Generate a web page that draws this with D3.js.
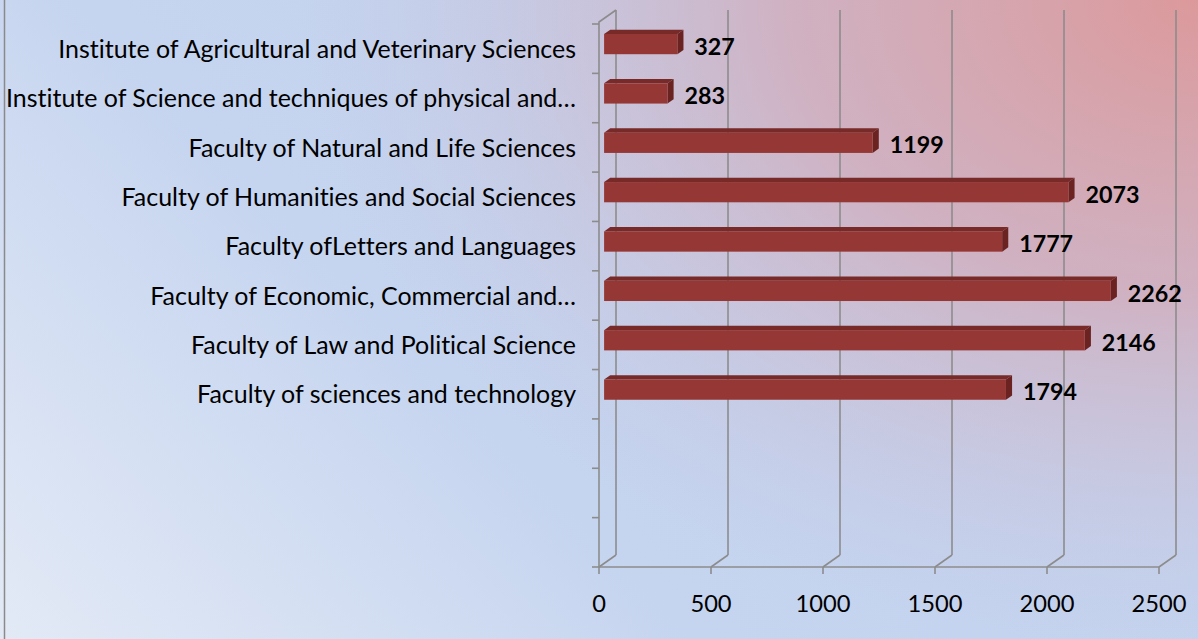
<!DOCTYPE html>
<html><head><meta charset="utf-8">
<script src="https://cdn.jsdelivr.net/npm/d3@7/dist/d3.min.js"></script>
<style>body{margin:0;background:#fff}svg{display:block}text{font-variant-ligatures:none;font-feature-settings:"liga" 0,"clig" 0}</style>
</head><body>
<svg id="c" width="1198" height="639"></svg>
<script>
// ---- data (top to bottom) ----
const categories = [
  "Institute of Agricultural and Veterinary Sciences",
  "Institute of Science and techniques of physical and…",
  "Faculty of Natural and Life Sciences",
  "Faculty of Humanities and Social Sciences",
  "Faculty ofLetters and Languages",
  "Faculty of Economic, Commercial and…",
  "Faculty of Law and Political Science",
  "Faculty of sciences and technology"
];
const values = [327, 283, 1199, 2073, 1777, 2262, 2146, 1794];
const emptySlots = 3;
const xTicks = [0, 500, 1000, 1500, 2000, 2500];

// ---- layout ----
const W = 1198, H = 639;
const svg = d3.select("#c");
const FONT = "Lato, 'Open Sans', 'Liberation Sans', sans-serif";

const defs = svg.append("defs");
const lg = defs.append("linearGradient").attr("id","bg").attr("gradientUnits","userSpaceOnUse")
  .attr("x1",0).attr("y1",H).attr("x2",W*0.55).attr("y2",0);
lg.append("stop").attr("offset",0).attr("stop-color","#e3eaf6");
lg.append("stop").attr("offset",0.55).attr("stop-color","#c5d4ef");
lg.append("stop").attr("offset",1).attr("stop-color","#c3d2ee");
const rg = defs.append("radialGradient").attr("id","pink").attr("gradientUnits","userSpaceOnUse")
  .attr("cx",W).attr("cy",0).attr("r",900)
  .attr("gradientTransform",`translate(${W},0) scale(1,0.72) translate(${-W},0)`);
rg.append("stop").attr("offset",0).attr("stop-color","#dc999b").attr("stop-opacity",1);
rg.append("stop").attr("offset",0.45).attr("stop-color","#d4a6b2").attr("stop-opacity",0.75);
rg.append("stop").attr("offset",1).attr("stop-color","#c8c4de").attr("stop-opacity",0);

svg.append("rect").attr("width",W).attr("height",H).attr("fill","url(#bg)");
svg.append("rect").attr("width",W).attr("height",H).attr("fill","url(#pink)");
svg.append("line").attr("x1",4.5).attr("x2",4.5).attr("y1",0).attr("y2",H)
  .attr("stroke","#8a8a8a").attr("stroke-width",1.5);

const x = d3.scaleLinear().domain([0, 2500]).range([599, 1159]);
const slots = d3.range(categories.length + emptySlots);
const y = d3.scaleBand().domain(slots).range([24, 567]);
const DX = 17, DY = -12;           // wall depth vector
const floorY = 567, wallTop = 22;
const bf = 0.3, bb = 0.66;         // bar front/back depth fractions
const grid = "#8c8c8c";

const g = svg.append("g");
// back-wall gridlines
g.selectAll("line.grid").data(xTicks).join("line")
  .attr("x1", d => x(d) + DX).attr("x2", d => x(d) + DX)
  .attr("y1", wallTop + DY).attr("y2", floorY + DY)
  .attr("stroke", grid).attr("stroke-width", 1.6);
// floor diagonals
g.selectAll("line.diag").data(xTicks).join("line")
  .attr("x1", d => x(d)).attr("x2", d => x(d) + DX)
  .attr("y1", floorY).attr("y2", floorY + DY)
  .attr("stroke", grid).attr("stroke-width", 1.6);
// left wall: front vertical + top diagonal
g.append("path")
  .attr("d", `M${x(0)},${floorY}V${wallTop}L${x(0)+DX},${wallTop+DY}`)
  .attr("fill","none").attr("stroke", grid).attr("stroke-width", 1.6);
// left wall ticks
const yt = slots.map(s => y(s)).concat([y(slots[slots.length-1]) + y.bandwidth()]);
g.selectAll("line.yt").data(yt).join("line")
  .attr("x1", x(0) - 7).attr("x2", x(0)).attr("y1", d => d).attr("y2", d => d)
  .attr("stroke", grid).attr("stroke-width", 1.6);
// floor front axis
g.append("line").attr("x1", x(0)).attr("x2", x(2500)).attr("y1", floorY).attr("y2", floorY)
  .attr("stroke", grid).attr("stroke-width", 1.6);
g.selectAll("line.xt").data(xTicks).join("line")
  .attr("x1", d => x(d)).attr("x2", d => x(d)).attr("y1", floorY).attr("y2", floorY + 7)
  .attr("stroke", grid).attr("stroke-width", 1.6);

// bars
const bh = y.bandwidth() * 0.41;
const bars = g.selectAll("g.bar").data(values).join("g");
bars.each(function(v, i){
  const s = d3.select(this);
  const cy = y(i) + y.bandwidth()/2;
  const fx0 = x(0) + DX*bf, fx1 = x(v) + DX*bf;
  const fy0 = cy + DY*bf - bh/2 - 1, fy1 = fy0 + bh;
  const ddx = DX*(bb-bf), ddy = DY*(bb-bf);
  s.append("path").attr("d",`M${fx0},${fy0}L${fx0+ddx},${fy0+ddy}L${fx1+ddx},${fy0+ddy}L${fx1},${fy0}Z`)
    .attr("fill","#772a28");
  s.append("path").attr("d",`M${fx1},${fy0}L${fx1+ddx},${fy0+ddy}L${fx1+ddx},${fy1+ddy}L${fx1},${fy1}Z`)
    .attr("fill","#6a2321");
  s.append("rect").attr("x",fx0).attr("y",fy0).attr("width",fx1-fx0).attr("height",bh)
    .attr("fill","#953735");
});

function fit(sel, target, base){
  const w = sel.node().getComputedTextLength();
  return base * target / w;
}

// category labels
const catG = svg.append("g").attr("font-family", FONT).attr("fill","#000");
const probe = catG.append("text").attr("font-size",22).text(categories[0]);
const catSize = fit(probe, 518, 22); probe.remove();
catG.selectAll("text").data(categories).join("text")
  .attr("x", 576).attr("y", (d,i) => y(i) + y.bandwidth()/2 + catSize*0.37)
  .attr("text-anchor","end").attr("font-size", catSize).text(d => d);

// value labels
const valG = svg.append("g").attr("font-family", FONT).attr("font-weight","bold").attr("fill","#000");
const p2 = valG.append("text").attr("font-size",24).text("2073");
const valSize = fit(p2, 54, 24); p2.remove();
valG.selectAll("text").data(values).join("text")
  .attr("x", d => x(d) + DX*bf + 17)
  .attr("y", (d,i) => y(i) + y.bandwidth()/2 + 6)
  .attr("font-size", valSize).text(d => d);

// tick labels
const tG = svg.append("g").attr("font-family", FONT).attr("fill","#000");
const p3 = tG.append("text").attr("font-size",24).text("2500");
const tSize = fit(p3, 55, 24); p3.remove();
tG.selectAll("text").data(xTicks).join("text")
  .attr("x", d => x(d)).attr("y", 612).attr("text-anchor","middle")
  .attr("font-size", tSize).text(d => d);
</script>
</body></html>
